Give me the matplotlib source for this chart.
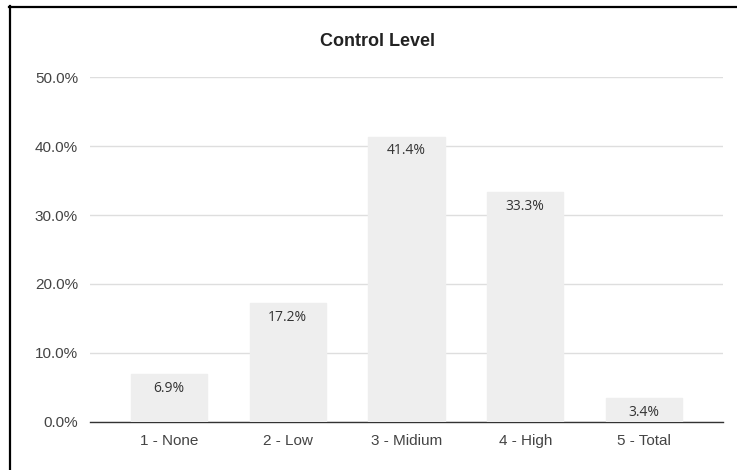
import matplotlib
matplotlib.use("Agg")
import matplotlib.pyplot as plt
from matplotlib.lines import Line2D
from matplotlib.ticker import FuncFormatter, MultipleLocator

categories = ["1 - None", "2 - Low", "3 - Midium", "4 - High", "5 - Total"]
values = [6.9, 17.2, 41.4, 33.3, 3.4]
title = "Control Level"

W, H, DPI = 737, 470, 100
fig = plt.figure(figsize=(W / DPI, H / DPI), dpi=DPI)
fig.patch.set_facecolor("white")

# plot area in pixels
left_px, right_px, top_px, bottom_px = 90, 723.3, 77.3, 421.7
ax = fig.add_axes([left_px / W, 1 - bottom_px / H,
                   (right_px - left_px) / W, (bottom_px - top_px) / H])

x = list(range(len(categories)))
bars = ax.bar(x, values, width=0.642, color="#eeeeee", edgecolor="#eeeeee",
              linewidth=1.0, joinstyle="round", zorder=3)

ax.set_xlim(-0.665, len(categories) - 1 + 0.667)
ax.set_ylim(0, 50)
ax.yaxis.set_major_locator(MultipleLocator(10))
ax.yaxis.set_major_formatter(FuncFormatter(lambda v, _: f"{v:.1f}%"))
ax.set_xticks(x)
ax.set_xticklabels(categories)

for s in ["left", "right", "top"]:
    ax.spines[s].set_visible(False)
ax.spines["bottom"].set_color("#333333")
ax.spines["bottom"].set_linewidth(1.0)
ax.spines["bottom"].set_zorder(1)

ax.grid(axis="y", color="#dedede", linewidth=1.0, zorder=0)
ax.set_axisbelow(True)

tick_font = dict(family=["Liberation Sans", "DejaVu Sans"], size=11)
ax.tick_params(axis="both", length=0, colors="#444444")
ax.tick_params(axis="y", pad=8.6)
ax.tick_params(axis="x", pad=9)
for lbl in ax.get_xticklabels() + ax.get_yticklabels():
    lbl.set_fontfamily(tick_font["family"])
    lbl.set_fontsize(tick_font["size"])

for xi, v in zip(x, values):
    ax.annotate(f"{v:.1f}%", xy=(xi, v), xytext=(0, -10.1),
                textcoords="offset points", ha="center", va="center",
                fontsize=10, color="#333333",
                family=["Open Sans", "DejaVu Sans"], zorder=4)

fig.text(378 / W, 1 - 41 / H, title, ha="center", va="center",
         fontsize=13, fontweight="bold", color="#222222",
         family=["Liberation Sans", "DejaVu Sans"])

# frame around the chart (left and top edges)
fig.add_artist(Line2D([9.5 / W, 9.5 / W], [0, 1 - 6 / H],
                      transform=fig.transFigure, color="black", linewidth=1.6))
fig.add_artist(Line2D([9 / W, 1], [1 - 6.5 / H, 1 - 6.5 / H],
                      transform=fig.transFigure, color="black", linewidth=1.6))

fig.savefig("out.png", dpi=DPI)
